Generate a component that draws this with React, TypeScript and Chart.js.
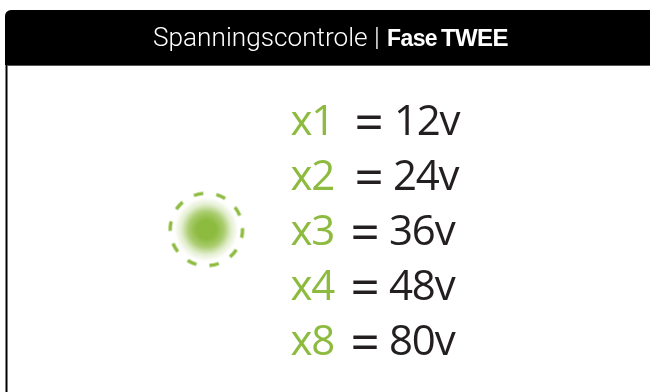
import React, { useEffect, useRef } from "react";
import { Chart, registerables } from "chart.js";

Chart.register(...registerables);

const multipliers = ["x1", "x2", "x3", "x4", "x8"];
const voltages = [12, 24, 36, 48, 80];
const activeMultiplier = "x3";
const titleLight = "Spanningscontrole";
const titleDivider = "|";
const titleBold = ["Fase", "TWEE"];

const GREEN = "#8dbb3f";
const INK = "#231f20";
const TEXT_FONT = '42px "Open Sans"';
const EQUALS_FONT = '51px "Open Sans"';
const equalsColumn = [355, 355, 351, 351, 351];
const valueColumn = [395, 394, 390, 390, 390];

function makeIndicator(): HTMLCanvasElement {
  const c = document.createElement("canvas");
  c.width = 84;
  c.height = 84;
  const g = c.getContext("2d")!;
  const glow = g.createRadialGradient(42, 42, 0, 42, 42, 32);
  glow.addColorStop(0, "rgba(141,187,63,1)");
  glow.addColorStop(0.3, "rgba(141,187,63,1)");
  glow.addColorStop(0.55, "rgba(141,187,63,0.75)");
  glow.addColorStop(0.78, "rgba(141,187,63,0.25)");
  glow.addColorStop(1, "rgba(141,187,63,0)");
  g.fillStyle = glow;
  g.beginPath();
  g.arc(42, 42, 32, 0, Math.PI * 2);
  g.fill();
  g.strokeStyle = GREEN;
  g.lineWidth = 3.4;
  g.setLineDash([9.6, 13.1]);
  g.beginPath();
  g.arc(42, 42, 36.2, (-110 * Math.PI) / 180, (250 * Math.PI) / 180);
  g.stroke();
  return c;
}

const framePlugin = {
  id: "frame",
  beforeDraw(chart: any) {
    const { ctx, width, height } = chart;
    ctx.save();
    ctx.fillStyle = "#fff";
    ctx.fillRect(0, 0, width, height);
    ctx.fillStyle = "#000";
    ctx.fillRect(5.5, 60, 2, height - 60);
    ctx.beginPath();
    ctx.roundRect(5, 10, width - 5, 55, [6, 0, 0, 0]);
    ctx.fill();
    ctx.fillStyle = "#555";
    ctx.fillRect(7, 65, width - 7, 1);
    ctx.textBaseline = "alphabetic";
    ctx.textAlign = "left";
    ctx.fillStyle = "#fff";
    ctx.font = "300 26.2px Roboto";
    ctx.fillText(titleLight, 153, 46);
    ctx.fillText(titleDivider, 374, 46);
    ctx.font = '700 23px "Liberation Sans"';
    ctx.letterSpacing = "-0.6px";
    ctx.fillText(titleBold[0], 387, 46);
    ctx.font = '700 24px "Liberation Sans"';
    ctx.letterSpacing = "-0.6px";
    ctx.fillText(titleBold[1], 441, 46);
    ctx.letterSpacing = "0px";
    ctx.restore();
  },
};

const rowsPlugin = {
  id: "rows",
  afterDatasetsDraw(chart: any) {
    const { ctx } = chart;
    const y = chart.scales.y;
    const x = chart.scales.x;
    ctx.save();
    ctx.textBaseline = "alphabetic";
    ctx.textAlign = "left";
    multipliers.forEach((m, i) => {
      const base = y.getPixelForValue(m) + 15.5;
      ctx.font = TEXT_FONT;
      ctx.letterSpacing = "-1.2px";
      ctx.fillStyle = GREEN;
      ctx.fillText(m, x.getPixelForValue(290), base);
      ctx.fillStyle = INK;
      ctx.fillText(voltages[i] + "v", x.getPixelForValue(valueColumn[i]), base);
      ctx.letterSpacing = "0px";
      ctx.font = EQUALS_FONT;
      ctx.fillText("=", x.getPixelForValue(equalsColumn[i]), base + 5);
    });
    ctx.restore();
  },
};

export default function App() {
  const ref = useRef<HTMLCanvasElement>(null);
  useEffect(() => {
    const chart = new Chart(ref.current!, {
      type: "scatter",
      data: {
        labels: multipliers,
        datasets: [
          {
            label: "Indicator",
            data: [{ x: 204.5, y: activeMultiplier }] as any,
            pointStyle: makeIndicator() as any,
          },
        ],
      },
      options: {
        animation: false,
        responsive: false,
        layout: { padding: { top: 92, bottom: 25, left: 0, right: 0 } },
        plugins: { legend: { display: false }, tooltip: { enabled: false }, title: { display: false } },
        scales: {
          x: { type: "linear", display: false, min: 0, max: 650 },
          y: { type: "category", labels: multipliers, display: false, offset: true },
        },
      },
      plugins: [framePlugin, rowsPlugin],
    });
    return () => chart.destroy();
  }, []);
  return (
    <canvas
      ref={ref}
      width={650}
      height={392}
      style={{ position: "fixed", left: 0, top: 0, display: "block", width: 650, height: 392 }}
    />
  );
}
